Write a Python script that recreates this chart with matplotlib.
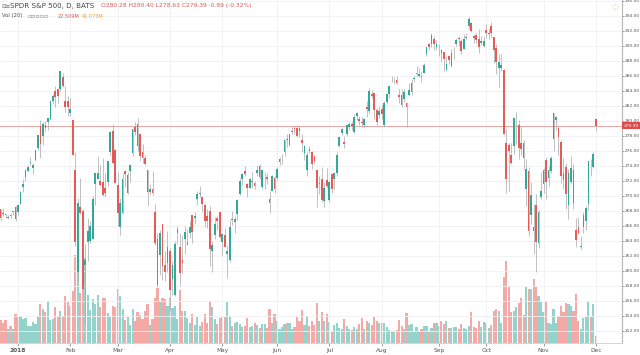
import matplotlib
matplotlib.use('Agg')
import matplotlib.pyplot as plt
import numpy as np
import pandas as pd

# SPY daily bars, 19 Dec 2017 .. 3 Dec 2018 (approximate)
holidays = ['2017-12-25', '2018-01-01', '2018-01-15', '2018-02-19', '2018-03-30',
            '2018-05-28', '2018-07-04', '2018-09-03', '2018-11-22']

opens = [268.5, 268.3, 267.7, 267.6, 267.1, 267.4, 267.9, 268.5,  # Dec 17
         267.8, 268.96, 271.2, 272.5, 273.3, 274.4, 273.7, 274.75, 276.4, 279.35, 278.0,
         279.5, 279.8, 280.2, 282.7, 284.0, 284.2, 284.3, 285.9, 282.6, 282.7,  # Jan
         281.1, 280.1, 273.45, 259.9, 268.5, 268.0, 260.8, 263.8, 263.97, 264.3, 271.6,
         272.3, 272.0, 271.9, 271.1, 271.8, 275.8, 278.7, 276.1,  # Feb
         271.4, 265.8, 267.7, 273.3, 270.4, 273.3, 275.7, 279.2, 279.6, 278.2, 275.9,
         275.0, 273.4, 270.5, 270.9, 267.9, 264.2, 262.1, 266.2, 260.8, 261.1,  # Mar
         262.6, 258.9, 256.8, 265.0, 263.2, 261.4, 264.3, 263.5, 265.0, 267.4, 267.0,
         269.6, 270.2, 269.8, 268.8, 267.3, 268.0, 262.6, 264.8, 267.0, 267.8,  # Apr
         263.9, 264.8, 262.3, 261.5, 266.9, 266.5, 267.6, 270.3, 272.3, 273.3, 271.6,
         271.1, 271.8, 271.7, 273.0, 273.96, 271.2, 272.9, 272.5, 269.6, 270.6, 272.4,  # May
         272.4, 274.5, 275.0, 275.8, 277.6, 276.8, 278.5, 279.0, 279.1, 279.0, 277.5,
         275.7, 273.5, 276.3, 275.9, 275.3, 273.4, 271.6, 272.3, 269.3, 272.1,  # Jun
         269.5, 272.9, 272.2, 273.1, 276.6, 278.4, 277.2, 278.3, 279.2, 279.6, 278.5,
         280.6, 280.3, 279.8, 279.5, 281.8, 281.3, 283.6, 283.7, 281.5, 280.8,  # Jul
         281.6, 279.4, 282.5, 283.6, 285.4, 285.4, 285.5, 283.5, 283.5, 282.9, 282.4,
         283.4, 283.8, 285.6, 286.3, 286.0, 286.0, 286.4, 288.9, 290.3, 290.2, 290.9, 289.8,  # Aug
         289.8, 289.4, 289.2, 286.8, 288.7, 287.3, 289.0, 290.3, 291.1, 290.7, 289.6,
         291.1, 292.6, 293.1, 291.3, 291.5, 290.9, 290.4, 289.99,  # Sep
         292.1, 291.6, 292.7, 291.2, 289.7, 287.1, 287.0, 286.8, 277.1, 276.8, 275.5,
         276.6, 280.5, 279.4, 277.1, 277.0, 270.9, 273.3, 267.4, 265.9, 268.8, 263.7, 269.9,  # Oct
         271.6, 274.8, 272.4, 273.3, 277.6, 280.1, 279.0, 277.2, 273.1, 273.9, 268.8,
         271.8, 273.5, 265.4, 265.9, 263.2, 265.8, 266.6, 268.9, 274.0, 273.8,  # Nov
         280.28]  # Dec 3

highs = [268.5, 268.3, 268.4, 267.6, 267.4, 267.7, 267.9, 268.6,
         268.8, 270.6, 272.2, 273.6, 274.1, 275.25, 274.4, 276.1, 278.1, 280.1, 279.8,
         279.96, 280.4, 282.7, 283.6, 284.7, 284.3, 286.6, 286.4, 284.7, 283.3,
         283.06, 280.2, 275.85, 269.7, 272.4, 268.2, 263.6, 267.0, 266.6, 270.0, 273.0,
         275.3, 274.1, 275.0, 273.1, 274.7, 278.6, 279.6, 276.3,
         273.2, 269.7, 273.0, 273.4, 273.2, 274.2, 278.9, 279.9, 280.4, 278.2, 276.9,
         275.4, 273.4, 271.6, 273.3, 268.9, 265.0, 265.4, 266.3, 262.6, 265.3,
         263.1, 261.3, 264.0, 266.0, 265.1, 264.8, 266.0, 265.6, 266.7, 267.5, 267.9,
         270.7, 271.3, 269.9, 269.1, 268.2, 268.7, 264.0, 267.2, 267.3, 268.0,
         265.1, 265.7, 263.4, 266.8, 268.0, 267.3, 269.6, 272.4, 273.1, 274.0, 271.7,
         272.4, 273.2, 272.0, 274.1, 274.3, 273.4, 273.2, 273.0, 270.6, 272.8, 272.6,
         273.9, 275.2, 275.6, 277.5, 278.3, 278.3, 279.2, 279.3, 279.5, 279.3, 278.2,
         276.8, 275.8, 276.7, 276.0, 275.4, 273.4, 272.6, 273.9, 271.8, 273.7,
         272.0, 272.98, 273.2, 275.9, 277.9, 279.0, 278.0, 279.4, 279.9, 279.8, 280.9,
         281.2, 280.7, 280.5, 280.4, 282.6, 284.4, 284.1, 283.8, 281.7, 282.0,
         282.1, 282.6, 283.7, 284.7, 286.0, 285.9, 286.0, 284.2, 284.2, 284.2, 282.5,
         285.0, 285.6, 286.0, 287.3, 287.0, 286.6, 287.7, 289.9, 290.4, 291.7, 291.3, 290.8,
         290.2, 289.6, 289.2, 288.7, 288.8, 289.6, 289.8, 291.0, 291.3, 290.9, 291.6,
         291.7, 293.9, 293.2, 291.5, 291.7, 292.2, 291.3, 291.3,
         292.9, 292.4, 293.2, 291.2, 290.3, 288.9, 288.9, 286.9, 278.9, 277.0, 277.0,
         280.5, 281.15, 280.1, 279.3, 277.4, 274.9, 273.8, 271.8, 268.9, 270.25, 268.1, 273.2,
         273.7, 275.2, 274.0, 275.3, 281.1, 280.7, 279.3, 277.5, 275.0, 274.4, 273.6,
         275.3, 274.2, 267.0, 267.2, 264.6, 267.8, 268.7, 274.7, 274.9, 275.8,
         280.40]

lows = [267.1, 266.7, 267.3, 267.0, 266.9, 267.0, 267.5, 266.6,
        267.4, 268.96, 270.5, 271.95, 273.2, 274.1, 272.9, 274.6, 276.1, 275.0, 276.8,
        278.6, 278.8, 280.1, 282.3, 281.8, 282.4, 283.96, 284.5, 281.2, 280.7,
        280.68, 275.4, 263.3, 258.7, 267.6, 257.6, 252.9, 261.3, 263.7, 264.3, 268.8,
        272.3, 271.3, 270.0, 269.9, 271.3, 275.4, 274.4, 271.7,
        266.0, 264.8, 267.6, 271.2, 270.2, 271.9, 275.3, 278.1, 276.0, 274.7, 274.4,
        274.1, 268.6, 270.3, 270.1, 263.4, 257.8, 259.4, 258.8, 258.6, 259.9,
        254.7, 256.8, 256.6, 263.6, 258.0, 259.7, 262.3, 263.4, 264.4, 263.7, 266.2,
        268.8, 269.9, 267.8, 265.9, 265.7, 260.7, 259.8, 264.2, 265.4, 264.4,
        262.1, 263.2, 259.05, 261.2, 266.1, 265.1, 266.8, 270.1, 271.5, 272.6, 269.9,
        271.0, 271.1, 270.9, 272.6, 272.3, 270.9, 270.9, 271.6, 267.7, 270.6, 270.4,
        272.1, 274.1, 274.3, 275.3, 276.5, 276.6, 278.3, 278.3, 277.8, 277.9, 275.9,
        274.8, 272.7, 275.7, 273.6, 274.3, 268.5, 270.2, 269.2, 268.5, 271.1,
        269.2, 270.4, 270.97, 272.6, 276.5, 278.1, 276.4, 278.0, 278.8, 278.8, 278.4,
        280.1, 279.4, 279.2, 279.1, 280.5, 280.9, 283.1, 280.2, 279.4, 280.4,
        280.2, 279.2, 282.3, 283.1, 285.2, 284.9, 284.97, 282.4, 281.8, 282.5, 279.2,
        283.3, 283.4, 285.2, 286.0, 285.9, 285.2, 286.4, 288.7, 289.4, 289.9, 289.5, 289.4,
        288.7, 287.9, 286.6, 286.7, 287.6, 287.2, 288.3, 290.0, 290.0, 288.9, 289.6,
        290.8, 292.3, 291.8, 290.4, 290.4, 289.0, 290.1, 289.9,
        291.0, 290.9, 291.0, 287.7, 286.2, 284.5, 286.6, 278.2, 270.4, 270.6, 274.3,
        275.6, 276.9, 274.95, 275.5, 273.6, 268.6, 264.6, 266.2, 262.3, 259.85, 263.1, 269.6,
        270.4, 269.6, 271.3, 273.0, 276.0, 278.8, 275.4, 271.7, 270.9, 268.2, 266.9,
        271.6, 268.3, 263.2, 264.9, 262.9, 265.0, 265.5, 268.1, 272.6, 273.7,
        278.63]

closes = [267.2, 267.0, 267.6, 267.5, 267.2, 267.3, 267.9, 266.9,
          268.8, 270.5, 271.6, 273.4, 273.9, 274.5, 274.1, 276.1, 278.1, 276.97, 279.6,
          279.1, 280.4, 282.7, 283.3, 283.2, 283.3, 286.6, 284.7, 281.8, 281.9,
          281.6, 275.5, 263.9, 269.1, 267.7, 257.6, 261.5, 265.3, 266.0, 269.6, 273.0,
          273.1, 271.4, 270.1, 270.4, 274.7, 278.5, 274.4, 271.7,
          267.7, 269.1, 272.2, 272.9, 272.8, 274.1, 278.9, 278.5, 276.7, 275.3, 275.0,
          274.2, 270.5, 270.9, 270.4, 263.7, 258.1, 265.1, 260.6, 259.8, 263.2,
          257.5, 260.8, 263.6, 265.6, 259.7, 261.0, 265.2, 263.8, 265.9, 265.2, 267.3,
          270.2, 270.4, 268.9, 266.6, 266.6, 262.9, 263.4, 266.3, 266.6, 264.5,
          264.98, 263.2, 262.6, 265.9, 266.8, 266.9, 269.5, 272.0, 272.9, 272.98, 271.1,
          272.2, 272.0, 271.3, 273.4, 272.5, 273.4, 272.9, 272.2, 269.0, 272.6, 270.9,
          273.6, 274.9, 275.1, 277.4, 277.4, 278.2, 278.6, 278.9, 278.0, 278.7, 277.1,
          276.6, 275.5, 276.0, 274.2, 274.7, 271.0, 271.6, 269.4, 271.0, 271.3,
          271.9, 270.9, 273.1, 275.4, 277.9, 278.9, 276.9, 279.4, 279.6, 279.3, 280.5,
          281.1, 280.0, 279.7, 280.2, 281.6, 284.0, 283.3, 281.4, 279.9, 281.3,
          280.9, 282.4, 283.6, 284.6, 285.5, 285.5, 285.1, 283.2, 282.1, 283.9, 281.8,
          284.1, 285.1, 285.7, 286.3, 286.2, 285.8, 287.5, 289.8, 289.9, 291.5, 290.3, 290.3,
          289.8, 289.0, 288.2, 287.6, 288.1, 289.1, 289.1, 290.8, 290.9, 289.3, 290.9,
          291.2, 293.6, 291.99, 291.0, 290.8, 289.9, 290.7, 290.7,
          291.7, 291.6, 291.7, 289.4, 287.8, 287.8, 287.4, 278.3, 272.2, 275.95, 274.4,
          280.4, 280.5, 276.4, 276.3, 275.0, 273.6, 265.3, 270.1, 265.3, 263.9, 267.8, 270.6,
          273.5, 271.9, 273.4, 275.1, 281.0, 280.5, 277.8, 272.6, 272.1, 270.2, 273.0,
          273.7, 269.1, 264.1, 265.0, 263.3, 267.5, 268.4, 274.6, 273.98, 275.65,
          279.39]

# volume, millions of shares
volumes = [82, 76, 67, 78, 45, 57, 45, 96,
           86, 90, 80, 83, 57, 58, 70, 62, 91, 130, 113, 103, 137, 76, 80, 118, 90, 108, 91, 156, 137,
           122, 173, 294, 355, 167, 246, 283, 158, 111, 145, 131, 160, 120, 149, 150, 101, 91, 122, 121,
           180, 156, 113, 77, 87, 59, 113, 73, 103, 92, 81, 107, 129, 60, 79, 148, 183, 141, 148, 145, 124,
           150, 117, 123, 80, 177, 105, 106, 84, 67, 95, 61, 88, 58, 71, 97, 67, 138, 121, 79, 62, 82,
           87, 86, 136, 91, 57, 66, 71, 63, 53, 55, 83, 52, 58, 66, 60, 50, 62, 62, 50, 113, 66, 98,
           72, 46, 53, 64, 67, 68, 46, 54, 85, 73, 110, 60, 89, 55, 73, 60, 132, 73, 103, 74, 97,
           69, 40, 60, 66, 50, 45, 80, 57, 46, 43, 53, 45, 62, 82, 46, 74, 67, 59, 85, 73, 66,
           67, 65, 53, 44, 41, 40, 43, 77, 55, 47, 99, 61, 64, 37, 54, 41, 46, 57, 58, 40, 51, 66, 65,
           58, 72, 62, 73, 51, 49, 53, 52, 46, 62, 49, 46, 58, 103, 54, 49, 73, 53, 69,
           65, 51, 59, 106, 112, 108, 68, 220, 274, 189, 102, 107, 120, 134, 149, 93, 187, 180, 181, 213, 186, 155, 136,
           103, 136, 67, 63, 113, 68, 89, 123, 104, 132, 131, 124, 106, 164, 72, 45, 83, 87, 138, 85, 131,
           22.5]

month_labels = ['2018', 'Feb', 'Mar', 'Apr', 'May', 'Jun', 'Jul', 'Aug', 'Sep', 'Oct', 'Nov', 'Dec']
last_price = 279.39

days = pd.bdate_range('2017-12-19', '2018-12-03')
days = days[~days.isin(pd.to_datetime(holidays))]
o, h, l, c, v = map(np.array, (opens, highs, lows, closes, volumes))
x = np.arange(len(days))

# first bar of each month in 2018
s = pd.Series(x, index=days)
firsts = s.groupby([days.year, days.month]).first().values[1:]

up_col, dn_col = '#32a898', '#e65a58'
vup_col, vdn_col = '#93d3cc', '#f5a9a7'
up = c >= o

fig = plt.figure(figsize=(6.4, 3.55), dpi=100)
ax = fig.add_axes([0, 12 / 355, 622 / 640, 343 / 355])
ax2 = ax.twinx()
ax.set_zorder(2)
ax2.set_zorder(1)
ax.patch.set_visible(False)

# volume under the candles
ax2.bar(x, v, width=0.86, color=np.where(up, vup_col, vdn_col), linewidth=0)
ax2.set_ylim(0, 1140)
ax2.set_yticks([])
for sp in ax2.spines.values():
    sp.set_visible(False)

# candles
cols = np.where(up, up_col, dn_col)
ax.vlines(x, l, h, color='#a8a8a8', linewidth=0.5, zorder=3)
body = np.maximum(np.abs(c - o), 0.08)
ax.bar(x, body, bottom=np.minimum(o, c), width=0.7, color=cols, linewidth=0, zorder=4)

ax.axhline(last_price, color='#eaa3a3', linewidth=0.7, zorder=2)

ax.set_xlim(0.77, 250.5)
ax.set_ylim(250.4, 296.13)
ax.set_xticks(firsts)
ax.set_xticklabels(month_labels)
ax.get_xticklabels()[0].set_fontweight('bold')
ax.set_yticks(np.arange(252, 297, 2))
ax.yaxis.set_major_formatter(matplotlib.ticker.FormatStrFormatter('%.2f'))
ax.yaxis.tick_right()
ax.tick_params(axis='x', labelsize=4.2, colors='#555555', length=2, width=0.4, pad=1.5)
ax.tick_params(axis='y', labelsize=3.2, colors='#555555', length=1.2, width=0.4, pad=0.6)
ax.grid(True, color='#eef0f3', linewidth=0.6, zorder=0)
for sp in ['top', 'left']:
    ax.spines[sp].set_visible(False)
ax.spines['right'].set_color('#b5b5b5')
ax.spines['bottom'].set_color('#cfcfcf')
ax.spines['right'].set_linewidth(0.8)
ax.spines['bottom'].set_linewidth(0.6)

# last price tag
ax.annotate('%.2f' % last_price, xy=(1, last_price), xycoords=('axes fraction', 'data'),
            xytext=(1.0, 0), textcoords='offset points', va='center', ha='left',
            fontsize=3.2, color='white',
            bbox=dict(boxstyle='square,pad=0.25', fc='#e04a4a', ec='none'))

# legend / header
fig.text(1 / 640, 1 - 6 / 355, '⊟≡', fontsize=4, color='#777777', va='center')
fig.text(10 / 640, 1 - 6 / 355, 'SPDR S&P 500, D, BATS', fontsize=5.1, color='#444444', va='center')
fig.text(101 / 640, 1 - 6 / 355, 'O280.28 H280.40 L278.63 C279.39 -0.89 (-0.32%)',
         fontsize=4.3, color='#e05555', va='center')
fig.text(2 / 640, 1 - 16 / 355, 'Vol (20)', fontsize=3.8, color='#555555', va='center')
fig.text(27 / 640, 1 - 16 / 355, '▫▫▫▫▫', fontsize=4.5, color='#999999', va='center')
fig.text(58 / 640, 1 - 16 / 355, '22.509M', fontsize=3.6, color='#e05555', va='center')
fig.text(82 / 640, 1 - 16 / 355, '91.073M', fontsize=3.6, color='#f0a030', va='center')
fig.text(615 / 640, 1 - 7 / 355, '◌', fontsize=6, color='#e0b070', va='center', ha='center')

fig.savefig('out.png', dpi=100)
